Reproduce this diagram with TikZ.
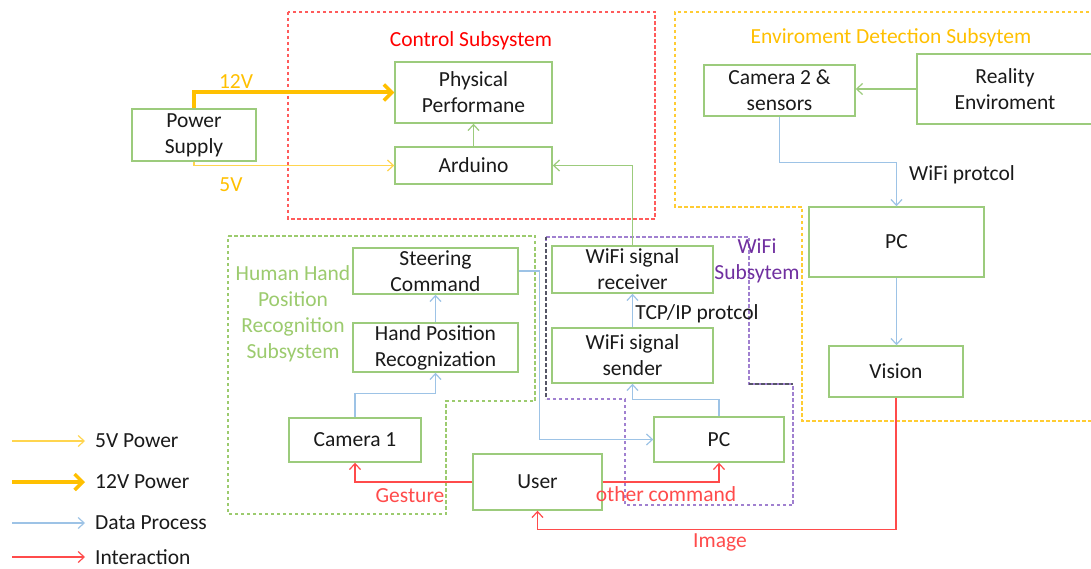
\documentclass[tikz,border=0pt]{standalone}
\usepackage{fontspec}
\setmainfont{Carlito}
\usetikzlibrary{arrows.meta}
\definecolor{boxgreen}{HTML}{9CCB7C}
\definecolor{dblue}{HTML}{9DC3E6}
\definecolor{ired}{HTML}{FF4B4B}
\definecolor{vtw}{HTML}{FFC000}
\definecolor{vfive}{HTML}{FFD54F}
\definecolor{ctrlred}{HTML}{FF5B5B}
\definecolor{envor}{HTML}{FFCC33}
\definecolor{handgreen}{HTML}{9CCB6E}
\definecolor{wifipurple}{HTML}{7030A0}
\definecolor{wifidash}{HTML}{A080D0}
\definecolor{darkdash}{HTML}{555566}
\definecolor{txt}{HTML}{1A1A1A}
\tikzset{
  box/.style={draw=boxgreen, line width=1.4pt, inner sep=0pt, align=center,
    font=\fontsize{21.5}{26}\selectfont, text=txt},
  tip/.style={-{Straight Barb[length=6pt,width=11pt,line width=1.2pt]}},
  datac/.style={tip, draw=dblue, line width=1.4pt},
  interc/.style={tip, draw=ired, line width=1.4pt},
  greenc/.style={tip, draw=boxgreen, line width=1.4pt},
  fivec/.style={tip, draw=vfive, line width=1.3pt},
  twelvec/.style={-{Straight Barb[length=8pt,width=16pt,line width=3.5pt]}, draw=vtw, line width=4pt},
  grpdash/.style={line width=1.4pt, dash pattern=on 3.5pt off 2.5pt},
  lbl/.style={font=\fontsize{21.5}{26}\selectfont, inner sep=0pt, align=center},
}
\begin{document}
\begin{tikzpicture}[x=1pt,y=-1pt]
\useasboundingbox[fill=white] (0,0) rectangle (1091,569);

% group boxes
\draw[grpdash, draw=ctrlred] (288,12) rectangle (655,219);
\draw[grpdash, draw=envor] (1095,12) -- (675,12) -- (675,207) -- (802,207) -- (802,421) -- (1095,421);
\draw[grpdash, draw=handgreen] (228,236) -- (535,236) -- (535,401) -- (446,401) -- (446,514) -- (228,514) -- cycle;
\draw[grpdash, draw=wifidash] (546,237) -- (749,237) -- (749,384) -- (793,384) -- (793,505) -- (625,505) -- (625,399) -- (546,399) -- cycle;
\draw[grpdash, draw=darkdash] (546,237) -- (546,399);
\draw[grpdash, draw=darkdash] (749,384) -- (793,384);

% group labels
\node[lbl, text=red] (lctrl) at (471,41) {Control Subsystem};
\node[lbl, text=vtw] (lenv) at (891,38) {Enviroment Detection Subsytem};
\node[lbl, text=wifipurple] (lwifi) at (757,261) {WiFi\\Subsytem};
\node[lbl, text=handgreen] (lhand) at (293,314) {Human Hand\\Position\\Recognition\\Subsystem};

% boxes
\node[box, minimum width=124pt, minimum height=52pt] (power) at (194,135) {Power\\Supply};
\node[box, minimum width=157pt, minimum height=61pt] (phys) at (473.5,92.5) {Physical\\Performane};
\node[box, minimum width=157pt, minimum height=37pt] (ard) at (473.5,165.5) {Arduino};
\node[box, minimum width=161pt, minimum height=47pt] (recv) at (632.5,269.5) {WiFi signal\\receiver};
\node[box, minimum width=161pt, minimum height=55pt] (send) at (632.5,355.5) {WiFi signal\\sender};
\node[box, minimum width=130pt, minimum height=45pt] (pcL) at (719,439.5) {PC};
\node[box, minimum width=165pt, minimum height=46pt] (steer) at (435.5,271) {Steering\\Command};
\node[box, minimum width=165pt, minimum height=49pt] (hand) at (435.5,347.5) {Hand Position\\Recognization};
\node[box, minimum width=132pt, minimum height=44pt] (cam1) at (355,440) {Camera 1};
\node[box, minimum width=129pt, minimum height=56pt] (user) at (537.5,482) {User};
\node[box, minimum width=151pt, minimum height=51pt] (cam2) at (779.5,90.5) {Camera 2 \&\\sensors};
\node[box, minimum width=176pt, minimum height=70pt] (real) at (1005,89) {Reality\\Enviroment};
\node[box, minimum width=175pt, minimum height=70pt] (pcU) at (896.5,242) {PC};
\node[box, minimum width=134pt, minimum height=51pt] (vision) at (896,371.5) {Vision};

% connectors
\draw[twelvec] (power.north) |- (phys.west);
\draw[fivec] (power.south) |- (ard.west);
\draw[greenc] (ard.north) -- (phys.south);
\draw[greenc] (recv.north) |- (ard.east);
\draw[datac] (send.north) -- (recv.south);
\draw[datac] (pcL.north) -- ++(0,-17) -| (send.south);
\draw[datac] (steer.east) -- ++(21,0) |- (pcL.west);
\draw[datac] (hand.north) -- (steer.south);
\draw[datac] (cam1.north) -- ++(0,-24) -| (hand.south);
\draw[interc] (user.west) -| (cam1.south);
\draw[interc] (user.east) -| (pcL.south);
\draw[interc] (vision.south) -- ++(0,132) -| (user.south);
\draw[greenc] (real.west) -- (real.west -| cam2.east);
\draw[datac] (cam2.south) -- ++(0,46) -| (pcU.north);
\draw[datac] (pcU.south) -- (pcU.south |- vision.north);

% connector labels
\node[lbl, text=vtw] (l12) at (236,82) {12V};
\node[lbl, text=vtw] (l5) at (231,185) {5V};
\node[lbl, text=txt] (ltcp) at (697,314) {TCP/IP protcol};
\node[lbl, text=txt] (lwp) at (962,175) {WiFi protcol};
\node[lbl, text=ired] (lgest) at (410,496) {Gesture};
\node[lbl, text=ired] (lother) at (666,494) {other command};
\node[lbl, text=ired] (limg) at (720,542) {Image};

% legend
\coordinate (a1) at (12,441); \coordinate (b1) at (85,441);
\coordinate (a2) at (12,482); \coordinate (b2) at (85,482);
\coordinate (a3) at (12,523); \coordinate (b3) at (85,523);
\coordinate (a4) at (12,557); \coordinate (b4) at (85,557);
\draw[fivec] (a1) -- (b1);
\draw[twelvec] (a2) -- (b2);
\draw[datac] (a3) -- (b3);
\draw[interc] (a4) -- (b4);
\node[lbl, anchor=west, text=txt] (t1) at (95,441) {5V Power};
\node[lbl, anchor=west, text=txt] (t2) at (95,482) {12V Power};
\node[lbl, anchor=west, text=txt] (t3) at (95,523) {Data Process};
\node[lbl, anchor=west, text=txt] (t4) at (95,557) {Interaction};
\end{tikzpicture}
\end{document}
